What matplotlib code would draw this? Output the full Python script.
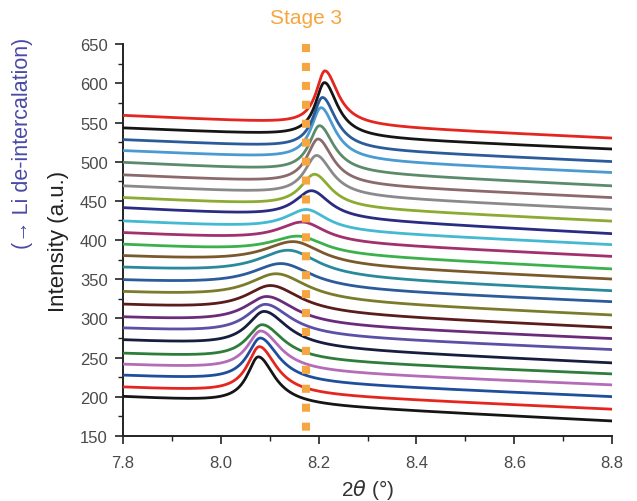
import numpy as np
import matplotlib

matplotlib.use("Agg")
import matplotlib.pyplot as plt
from matplotlib.ticker import MultipleLocator, FormatStrFormatter

plt.rcParams["font.family"] = ["Liberation Sans", "DejaVu Sans"]

# scans listed bottom -> top (each one offset upward in intensity)
colors = [
    "#151515", "#e5261e", "#1f4e9c", "#b46cb8", "#2f7d3b",
    "#161d3d", "#5b4fa6", "#6b2b7b", "#5b1c1c", "#7b7b2c",
    "#2b5b9a", "#2a8a9c", "#7a5a2c", "#3bb04c", "#a2306c",
    "#43b9d2", "#2a2b82", "#8cab32", "#8a8a8a", "#8b6a6c",
    "#5b8b6c", "#4a9bd2", "#2b5b9a", "#151515", "#e5261e",
]
left_level = [200, 212, 227, 241, 255, 272, 287, 301, 317, 333, 348, 364, 379,
              394, 409, 424, 441, 454, 469, 483, 499, 514, 528, 543, 559]
right_level = [169, 184, 200, 215, 229, 243, 260, 274, 288, 304, 321, 335, 350,
               363, 379, 394, 408, 424, 439, 454, 469, 486, 500, 516, 530]
peak_pos = [8.077, 8.079, 8.081, 8.082, 8.085, 8.089, 8.092, 8.095, 8.103,
            8.115, 8.125, 8.140, 8.150, 8.160, 8.168, 8.176, 8.186, 8.192,
            8.196, 8.199, 8.202, 8.205, 8.208, 8.212, 8.213]
peak_top = [251, 264, 275, 284, 292, 309, 318, 328, 342, 357, 370, 387, 398,
            405, 423, 439, 463, 484, 508, 529, 546, 569, 582, 601, 616]
hwhm_left = [0.028, 0.030, 0.032, 0.034, 0.038, 0.042, 0.048, 0.055, 0.062,
             0.070, 0.075, 0.078, 0.075, 0.070, 0.060, 0.052, 0.042, 0.035,
             0.030, 0.028, 0.026, 0.025, 0.024, 0.023, 0.022]
hwhm_right = [0.040, 0.042, 0.045, 0.048, 0.052, 0.058, 0.062, 0.068, 0.072,
              0.075, 0.075, 0.072, 0.068, 0.062, 0.056, 0.050, 0.045, 0.040,
              0.038, 0.036, 0.035, 0.034, 0.033, 0.032, 0.032]

stage3_pos = 8.174

two_theta = np.linspace(7.8, 8.8, 601)

fig = plt.figure(figsize=(6.37, 5.02), dpi=100)
ax = fig.add_axes([0.193, 0.1295, 0.768, 0.7805])

for i, c in enumerate(colors):
    ends = [left_level[i], right_level[i]]
    base = np.interp(two_theta, [7.8, 8.8], ends)
    amp = peak_top[i] - np.interp(peak_pos[i], [7.8, 8.8], ends)
    g = np.where(two_theta < peak_pos[i], hwhm_left[i], hwhm_right[i])
    prof = g ** 2 / ((two_theta - peak_pos[i]) ** 2 + g ** 2)
    ax.plot(two_theta, base + amp * prof, color=c, lw=2.0, solid_capstyle="round", zorder=3)

# stage 3 reference position (drawn top-down so the dash pattern starts at 650)
ax.plot([stage3_pos, stage3_pos], [650, 150], color="#f5a640", lw=5.8,
        linestyle=(0, (1.0, 1.35)), solid_capstyle="butt", zorder=4, clip_on=False)
fig.text(0.481, 0.963, "Stage 3", color="#f5a640", fontsize=15,
         ha="center", va="center")

ax.set_xlim(7.8, 8.8)
ax.set_ylim(150, 650)
ax.xaxis.set_major_locator(MultipleLocator(0.2))
ax.xaxis.set_minor_locator(MultipleLocator(0.1))
ax.yaxis.set_major_locator(MultipleLocator(50))
ax.yaxis.set_minor_locator(MultipleLocator(25))
ax.xaxis.set_major_formatter(FormatStrFormatter("%.1f"))

for side in ("top", "right"):
    ax.spines[side].set_visible(False)
for side in ("left", "bottom"):
    ax.spines[side].set_linewidth(1.4)
    ax.spines[side].set_color("#222222")

ax.tick_params(which="major", direction="out", length=6, width=1.2,
               color="#222222", labelcolor="#4a4a4a", labelsize=12)
ax.tick_params(which="minor", direction="out", length=3.5, width=1.0, color="#222222")
ax.tick_params(axis="x", pad=8)
ax.tick_params(axis="y", pad=5)

ax.set_xlabel(r"2$\theta$ (°)", fontsize=15, color="#333333", labelpad=5)
ax.set_ylabel("Intensity (a.u.)", fontsize=16, color="#222222", labelpad=8)
fig.text(0.036, 0.715, "(→ Li de-intercalation)", rotation=90, color="#4a4aa6",
         fontsize=15.5, ha="center", va="center")

fig.savefig("out.png", dpi=100)
